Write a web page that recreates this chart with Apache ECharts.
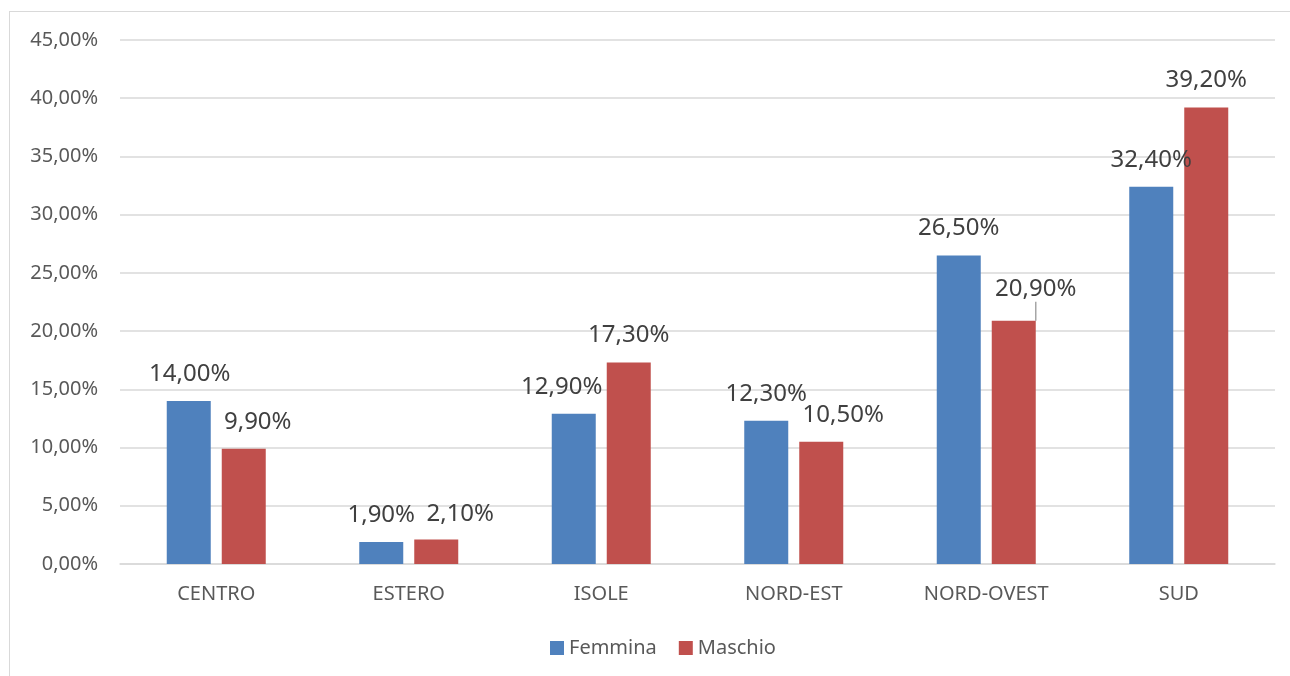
<!DOCTYPE html>
<html><head><meta charset="utf-8">
<script src="https://cdn.jsdelivr.net/npm/echarts@6/dist/echarts.min.js"></script>
<style>html,body{margin:0;padding:0;background:#fff}#frame{position:absolute;left:9px;top:11px;width:1300px;height:700px;border:1px solid #d9d9d9;box-sizing:border-box}#c{width:1290px;height:676px;position:absolute;left:0;top:0}</style>
</head><body><div id="frame"></div><div id="c"></div>
<script>
const categories = ['CENTRO','ESTERO','ISOLE','NORD-EST','NORD-OVEST','SUD'];
const femmina = [14.0, 1.9, 12.9, 12.3, 26.5, 32.4];
const maschio = [9.9, 2.1, 17.3, 10.5, 20.9, 39.2];
const yTicks = {min: 0, max: 45, interval: 5};

// label nudges (styling only)
const fDx = [1, 0, -12, 0, 0, 0];
const mDx = [14, 24, 0, 22, 22, 0];
const mDy = [0, 2, 0, 0, -4, 0];

const fmt = v => v.toFixed(2).replace('.', ',') + '%';
const chart = echarts.init(document.getElementById('c'));
const font = 'Noto Sans';
chart.setOption({
  animation: false,
  textStyle: {fontFamily: font},
  grid: {left: 120, right: 15, top: 40, bottom: 112},
  legend: {top: 633, left: 545, itemWidth: 14, itemHeight: 14, itemGap: 22,
    icon: 'rect', textStyle: {fontSize: 20, color: '#595959', fontFamily: font},
    data: ['Femmina','Maschio']},
  xAxis: {type: 'category', data: categories,
    axisLine: {lineStyle: {color: '#d9d9d9', width: 1.5}}, axisTick: {show: false},
    axisLabel: {fontSize: 20, color: '#595959', margin: 20}},
  yAxis: {type: 'value', min: yTicks.min, max: yTicks.max, interval: yTicks.interval,
    axisLine: {show: false}, axisTick: {show: false},
    splitLine: {lineStyle: {color: '#d9d9d9', width: 1.5}},
    axisLabel: {fontSize: 20, color: '#595959', margin: 22, formatter: v => v.toFixed(2).replace('.', ',') + '%'}},
  series: [
    {name: 'Femmina', type: 'bar', data: femmina, barWidth: 44, barGap: '25%',
      itemStyle: {color: '#4F81BD'},
      label: {show: true, position: 'top', distance: 15, fontSize: 24, color: '#404040', formatter: p => fmt(p.value)},
      labelLayout: p => ({dx: fDx[p.dataIndex]})},
    {name: 'Maschio', type: 'bar', data: maschio.map((v, i) => i === 4 ? {value: v, labelLine: {show: true}} : v),
      barWidth: 44,
      itemStyle: {color: '#C0504D'},
      label: {show: true, position: 'top', distance: 15, fontSize: 24, color: '#404040', formatter: p => fmt(p.value)},
      labelLine: {show: false, lineStyle: {color: '#a6a6a6', width: 1.5}},
      labelLayout: p => ({dx: mDx[p.dataIndex], dy: mDy[p.dataIndex]})}
  ]
});
</script></body></html>
